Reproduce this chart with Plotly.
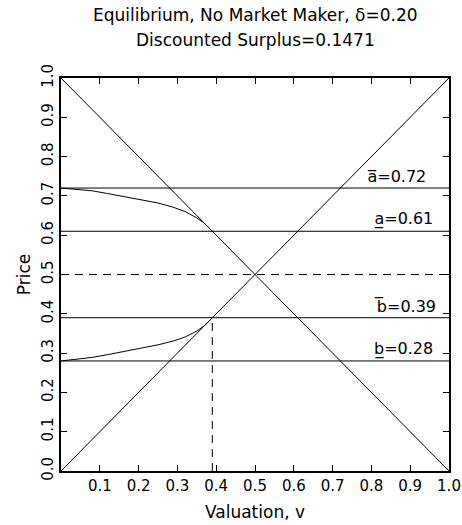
import plotly.graph_objects as go

# Equilibrium price thresholds
ask_high = 0.72
ask_low = 0.61
midpoint = 0.50
bid_high = 0.39
bid_low = 0.28
cutoff_v = 0.39

# Equilibrium ask / bid schedules as a function of valuation
v_curve = [0.0, 0.04, 0.08, 0.12, 0.16, 0.20, 0.25, 0.29, 0.32, 0.35, 0.37, 0.39]
ask_curve = [0.720, 0.717, 0.713, 0.706, 0.699, 0.692, 0.682, 0.671, 0.660, 0.644, 0.630, 0.610]
bid_curve = [0.280, 0.284, 0.289, 0.296, 0.304, 0.311, 0.321, 0.331, 0.341, 0.356, 0.370, 0.390]

# Reference diagonals
diag_v = [0.0, 1.0]
diag_up = [0.0, 1.0]
diag_down = [1.0, 0.0]

x_ticks = [0.1, 0.2, 0.3, 0.4, 0.5, 0.6, 0.7, 0.8, 0.9, 1.0]
y_ticks = [0.0, 0.1, 0.2, 0.3, 0.4, 0.5, 0.6, 0.7, 0.8, 0.9, 1.0]

title_lines = ["Equilibrium, No Market Maker, \u03b4=0.20", "Discounted Surplus=0.1471"]

labels = [
    ("a\u0305=0.72", ask_high, 0.784),
    ("a\u0332=0.61", ask_low, 0.802),
    ("b\u0305=0.39", bid_high, 0.802),
    ("b\u0332=0.28", bid_low, 0.802),
]

FONT = "DejaVu Sans"
line = dict(color="black", width=1)
dash = dict(color="black", width=1, dash="8px,6px")

fig = go.Figure()
fig.add_trace(go.Scatter(x=diag_v, y=diag_up, mode="lines", line=line))
fig.add_trace(go.Scatter(x=diag_v, y=diag_down, mode="lines", line=line))
for lvl in [ask_high, ask_low, bid_high, bid_low]:
    fig.add_trace(go.Scatter(x=[0, 1], y=[lvl, lvl], mode="lines", line=line))
fig.add_trace(go.Scatter(x=[0, 1], y=[midpoint, midpoint], mode="lines", line=dash))
fig.add_trace(go.Scatter(x=[cutoff_v, cutoff_v], y=[0, bid_high], mode="lines", line=dash))
fig.add_trace(go.Scatter(x=v_curve, y=ask_curve, mode="lines", line=line))
fig.add_trace(go.Scatter(x=v_curve, y=bid_curve, mode="lines", line=line))

for text, lvl, xpos in labels:
    fig.add_annotation(x=xpos, y=lvl, text=text, showarrow=False,
                       xanchor="left", yanchor="bottom", yshift=0,
                       font=dict(family=FONT, size=16, color="black"))

# Two-line heading
for text, ypos in zip(title_lines, [1.160, 1.097]):
    fig.add_annotation(x=0.5, y=ypos, xref="paper", yref="paper", text=text,
                       showarrow=False, xanchor="center", yanchor="middle",
                       font=dict(family=FONT, size=17, color="black"))

fig.update_layout(
    width=462, height=525,
    margin=dict(l=61, r=13, t=78, b=54, autoexpand=False),
    paper_bgcolor="white", plot_bgcolor="white",
    showlegend=False,
    font=dict(family=FONT, size=15, color="black"),
    xaxis=dict(
        range=[0, 1], tickvals=x_ticks, ticktext=[f"{t:.1f}" for t in x_ticks],
        ticks="inside", ticklen=6, tickwidth=1, tickcolor="black",
        tickfont=dict(family=FONT, size=15, color="black"),
        showline=True, linewidth=2, linecolor="black", mirror="ticks",
        showgrid=False, zeroline=False, automargin=False,
        title=dict(text="Valuation, v", standoff=12,
                   font=dict(family=FONT, size=17, color="black")),
    ),
    yaxis=dict(
        range=[0, 1], tickvals=y_ticks, ticktext=[f"{t:.1f}" for t in y_ticks],
        ticks="inside", ticklen=6, tickwidth=1, tickcolor="black", tickangle=-90,
        tickfont=dict(family=FONT, size=15, color="black"),
        showline=True, linewidth=2, linecolor="black", mirror="ticks",
        showgrid=False, zeroline=False, automargin=False,
        title=dict(text="Price", standoff=4,
                   font=dict(family=FONT, size=17, color="black")),
    ),
)

fig.write_html("out.html")
